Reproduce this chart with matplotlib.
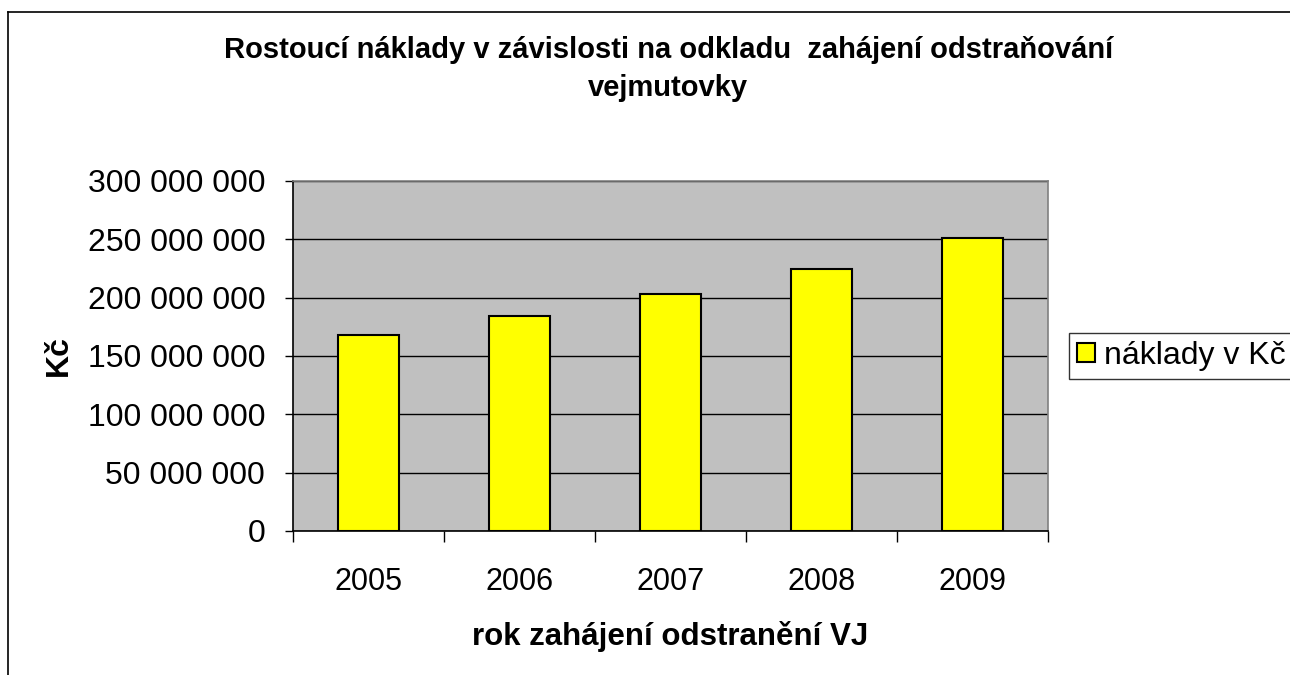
import matplotlib as mpl

mpl.use("Agg")

import matplotlib.pyplot as plt
import numpy as np
from matplotlib.lines import Line2D
from matplotlib.ticker import FuncFormatter, MultipleLocator

plt.rcParams["font.family"] = ["Liberation Sans", "DejaVu Sans"]

YEARS = ["2005", "2006", "2007", "2008", "2009"]
COSTS = [168_000_000, 184_000_000, 203_000_000, 225_000_000, 251_500_000]
SERIES_LABEL = "náklady v Kč"
TITLE = "Rostoucí náklady v závislosti na odkladu  zahájení odstraňování\nvejmutovky"
XLABEL = "rok zahájení odstranění VJ"
YLABEL = "Kč"


def main() -> None:
    fig = plt.figure(figsize=(12.9, 6.75), dpi=100)
    ax = fig.add_axes([293 / 1290, 1 - 531 / 675, (1048 - 293) / 1290, (531 - 181) / 675])
    ax.set_facecolor("#C0C0C0")

    x = np.arange(len(YEARS))
    ax.bar(x, COSTS, width=0.41, color="#FFFF00", edgecolor="black",
           linewidth=1.5, label=SERIES_LABEL, zorder=3)

    ax.set_xlim(-0.5, len(YEARS) - 0.5)
    ax.set_ylim(0, 300_000_000)
    ax.yaxis.set_major_locator(MultipleLocator(50_000_000))
    ax.yaxis.set_major_formatter(
        FuncFormatter(lambda v, _: f"{int(v):,}".replace(",", " "))
    )
    ax.grid(axis="y", color="black", linewidth=1.0, zorder=1)
    ax.set_axisbelow(True)

    ax.set_xticks(x, YEARS)
    ax.set_xticks(np.arange(-0.5, len(YEARS)), minor=True)
    ax.tick_params(axis="x", which="major", length=0, pad=26, labelsize=22)
    ax.tick_params(axis="x", which="minor", length=8, width=1, direction="out")
    ax.tick_params(axis="y", length=6, width=1, direction="out", labelsize=23, pad=14)

    for side in ("left", "bottom"):
        ax.spines[side].set_color("black")
        ax.spines[side].set_linewidth(1.2)
    for side in ("top", "right"):
        ax.spines[side].set_color("#808080")
        ax.spines[side].set_linewidth(1.2)

    ax.set_xlabel(XLABEL, fontsize=22.5, fontweight="bold", labelpad=17)
    ax.set_ylabel(YLABEL, fontsize=23, fontweight="bold", labelpad=10)

    fig.text(0.518, 1 - 69 / 675, TITLE, ha="center", va="center",
             fontsize=21, fontweight="bold", linespacing=1.45)

    fig.legend(loc="upper left", bbox_to_anchor=(1069 / 1290, 1 - 333 / 675),
               fontsize=23, frameon=True, fancybox=False, edgecolor="black",
               handlelength=0.55, handleheight=0.55, handletextpad=0.3,
               borderpad=0.25, borderaxespad=0)

    # outer chart frame
    fig.add_artist(Line2D([8 / 1290, 8 / 1290], [0, 1 - 12 / 675],
                          transform=fig.transFigure, color="black", linewidth=1.2))
    fig.add_artist(Line2D([8 / 1290, 1], [1 - 12 / 675, 1 - 12 / 675],
                          transform=fig.transFigure, color="black", linewidth=1.2))

    fig.savefig("out.png", dpi=100, facecolor="white")
    plt.close(fig)


if __name__ == "__main__":
    main()
